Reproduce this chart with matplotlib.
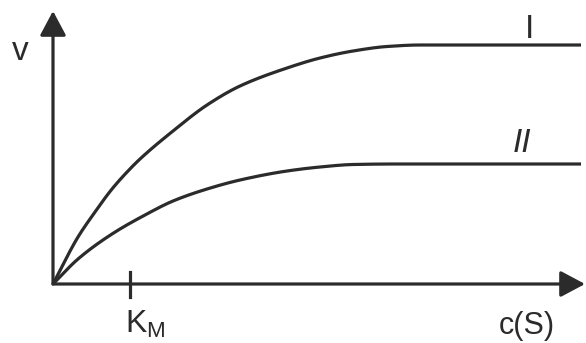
import matplotlib
matplotlib.use("Agg")
import matplotlib.pyplot as plt
from matplotlib.patches import FancyArrowPatch
import numpy as np

# substrate concentration (arbitrary units) and reaction rates
s_I = [0, 25, 42, 59, 75, 87, 120, 154, 187, 234, 267, 300, 334, 367, 528]
v_I = [0, 47, 72, 95, 113, 125, 153, 179, 198, 216, 226, 233, 237.5, 239, 239]
s_II = [0, 25, 59, 92, 120, 154, 187, 234, 267, 300, 340, 528]
v_II = [0, 25, 50, 69, 83, 95, 104, 113, 117, 119.5, 120, 120]
km_value = 77
curve_labels = ["I", "II"]
x_label = "c(S)"
y_label = "v"

fig = plt.figure(figsize=(5.86, 3.43), dpi=100)
ax = fig.add_axes([0, 0, 1, 1])
ax.set_xlim(-53, 533)
ax.set_ylim(-59, 284)
ax.axis("off")

col = "#2b2b2b"
lw = 2.3

def smooth(x, y):
    x = np.asarray(x, float); y = np.asarray(y, float)
    xs = np.linspace(x[0], x[-1], 800)
    h = np.diff(x); d = np.diff(y) / h
    m = np.zeros_like(y)
    m[0] = d[0]; m[-1] = d[-1]
    for i in range(1, len(x) - 1):
        if d[i-1] * d[i] <= 0:
            m[i] = 0
        else:
            w1 = 2*h[i] + h[i-1]; w2 = h[i] + 2*h[i-1]
            m[i] = (w1 + w2) / (w1/d[i-1] + w2/d[i])
    idx = np.clip(np.searchsorted(x, xs) - 1, 0, len(x) - 2)
    t = (xs - x[idx]) / h[idx]
    h00 = 2*t**3 - 3*t**2 + 1; h10 = t**3 - 2*t**2 + t
    h01 = -2*t**3 + 3*t**2; h11 = t**3 - t**2
    ys = h00*y[idx] + h10*h[idx]*m[idx] + h01*y[idx+1] + h11*h[idx]*m[idx+1]
    return xs, ys

for sx, vy in [(s_I, v_I), (s_II, v_II)]:
    xs, ys = smooth(sx, vy)
    ax.plot(xs, ys, color=col, lw=lw, solid_capstyle="butt")

# axes with arrows
for start, end in [((0, 0), (0, 273)), ((0, 0), (532, 0))]:
    ax.add_patch(FancyArrowPatch(start, end, arrowstyle="-|>,head_length=0.75,head_width=0.4",
                                 mutation_scale=20, color=col, lw=lw, shrinkA=0, shrinkB=0))

# K_M tick
ax.plot([km_value, km_value], [-13, 12], color=col, lw=lw)

fp = dict(family=["Liberation Sans", "DejaVu Sans"], color=col)
ax.text(km_value + 15, -49, r"K$_\mathregular{M}$", ha="center", va="baseline", fontsize=23, **fp)
ax.text(474, -57, x_label, ha="center", va="bottom", fontsize=22, **fp)
ax.text(-33, 232, y_label, ha="center", va="center", fontsize=24, **fp)
ax.text(477, 255, curve_labels[0], ha="center", va="center", fontsize=24, **fp)
ax.text(469, 141, curve_labels[1], ha="center", va="center", fontsize=24, style="italic", **fp)

fig.savefig("out.png", dpi=100)
